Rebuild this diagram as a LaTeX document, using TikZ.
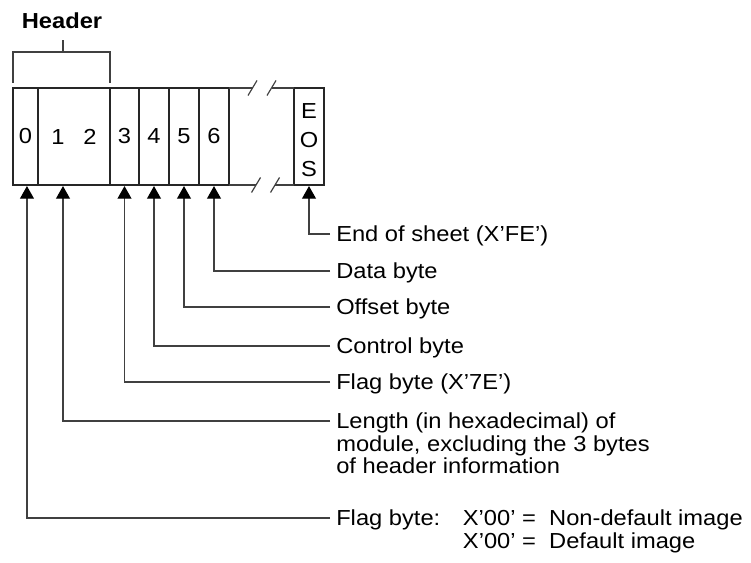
\documentclass[tikz,border=0pt]{standalone}
\usepackage{fontspec}
\setmainfont{Liberation Sans}[FakeStretch=1.09]
\usetikzlibrary{positioning,arrows.meta}

\tikzset{
  cell/.style={draw=black!85, line width=1.1pt, minimum height=72.75pt, inner sep=0pt, outer sep=0pt},
  lbl/.style={anchor=west, inner xsep=4.5pt, inner ysep=0pt, text height=11.7pt, text depth=0pt},
  ln/.style={draw=black!75, line width=0.9pt},
  arr/.style={ln, -{Triangle[width=10.5pt,length=9.5pt,color=black]}, shorten >=0.8pt},
}

\begin{document}
\begin{tikzpicture}[x=0.75pt, y=-0.75pt, font=\fontsize{16.3pt}{16.9pt}\selectfont, node distance=0pt]
  \useasboundingbox (0,0) rectangle (751,563);
  % record layout
  \node[cell, minimum width=18.75pt, anchor=west] (c0) at (13,136.5) {0};
  \node[cell, minimum width=54pt, right=of c0] (c12) {1\hspace{14pt}2};
  \node[cell, minimum width=21.75pt, right=of c12] (c3) {3};
  \node[cell, minimum width=22.5pt, right=of c3] (c4) {4};
  \node[cell, minimum width=22.5pt, right=of c4] (c5) {5};
  \node[cell, minimum width=22.5pt, right=of c5] (c6) {6};
  \node[cell, minimum width=22.5pt, right=48.75pt of c6, font=\fontsize{16.3pt}{21.5pt}\selectfont] (eos)
    {\begin{tabular}{@{}c@{}}\rule{0pt}{23pt}E\\O\\S\end{tabular}};
  % broken part
  \draw[ln] (c6.north east) -- (252.5,88) (271.5,88) -- (eos.north west);
  \draw[ln] (c6.south east) -- (256,185) (275,185) -- (eos.south west);
  \foreach \x/\y in {252.5/88, 271.5/88, 256/185, 275/185}
    \draw[ln] (\x-4.5,\y+7.5) -- (\x+4.5,\y-7.5);
  % header bracket
  \node[font=\bfseries\fontsize{16.3pt}{16.9pt}\selectfont] (hdr) at (62,21) {Header};
  \draw[ln] ([yshift=3.75pt]c0.north west) -- ++(0,-31) -| ([yshift=3.75pt]c12.north east);
  \draw[ln] (63,52) -- (63,40);
  % descriptions
  \node[lbl] (endl) at (330,234) {End of sheet (X'FE')};
  \node[lbl] (datl) at (330,271) {Data byte};
  \node[lbl] (offl) at (330,307) {Offset byte};
  \node[lbl] (ctll) at (330,346) {Control byte};
  \node[lbl] (f7el) at (330,382) {Flag byte (X'7E')};
  \node[lbl] (lenl) at (330,421) {\begin{tabular}[t]{@{}l@{}}Length (in hexadecimal) of\\module, excluding the 3 bytes\\of header information\end{tabular}};
  \node[lbl] (f00l) at (330,518) {\begin{tabular}[t]{@{}l@{\hspace{17pt}}l@{}}Flag byte: & X'00' =~~Non-default image\\ & X'00' =~~Default image\end{tabular}};
  % pointers
  \draw[arr] (endl.west) -| (eos.south);
  \foreach \l/\c in {datl/c6, offl/c5, ctll/c4, f7el/c3}
    \draw[arr] (\l.west) -| (\c.south);
  \draw[arr] (lenl.west) -| ([xshift=-8.25pt]c12.south);
  \draw[arr] (f00l.west) -| ([xshift=1.1pt]c0.south);
\end{tikzpicture}
\end{document}
